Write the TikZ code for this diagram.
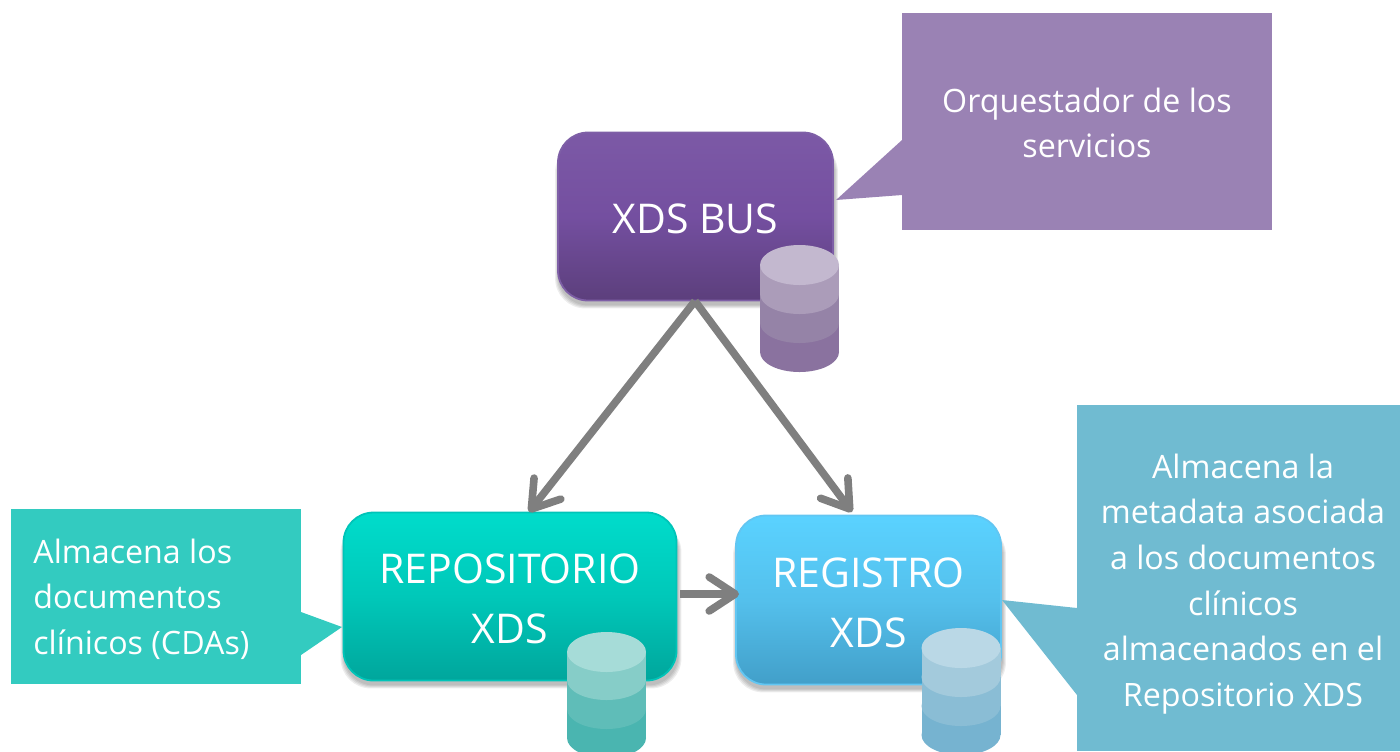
\documentclass[tikz,border=0pt]{standalone}
\usepackage{fontspec}
\setmainfont{Open Sans}
\usetikzlibrary{arrows.meta,calc}
\definecolor{arrowgray}{HTML}{7F7F7F}
\definecolor{busT}{HTML}{7C59A6}\definecolor{busM}{HTML}{744FA0}\definecolor{busB}{HTML}{5C3F7C}\definecolor{busE}{HTML}{7E5FA6}
\definecolor{repT}{HTML}{00DCCB}\definecolor{repM}{HTML}{00C8B9}\definecolor{repB}{HTML}{00A69C}\definecolor{repE}{HTML}{00C4B8}
\definecolor{regT}{HTML}{5AD2FF}\definecolor{regM}{HTML}{54C0EC}\definecolor{regB}{HTML}{429FC9}\definecolor{regE}{HTML}{62C6F2}
\definecolor{noteP}{HTML}{9A82B4}\definecolor{noteT}{HTML}{33CBC0}\definecolor{noteB}{HTML}{70BBD1}
\definecolor{pa}{HTML}{C3B8CF}\definecolor{pb}{HTML}{AB9CB9}\definecolor{pc}{HTML}{9583A7}\definecolor{pd}{HTML}{8A729F}
\definecolor{ta}{HTML}{A6DCD8}\definecolor{tb}{HTML}{86CDC8}\definecolor{tc}{HTML}{5FBDB8}\definecolor{td}{HTML}{4AB5B0}
\definecolor{ba}{HTML}{BAD8E6}\definecolor{bb}{HTML}{A3CADC}\definecolor{bc}{HTML}{8ABDD5}\definecolor{bd}{HTML}{76B3D0}
\newcommand{\softshadow}[1]{%
  \foreach \g in {7,5,3,1}{%
    \path[fill=black,fill opacity=0.07,rounded corners=15pt]
      ($(#1.south west)+(-\g*0.5+1,4+\g*0.5)$) rectangle ($(#1.north east)+(\g*0.5+1,10)$);
  }}
\newcommand{\dbband}[4]{%
  \fill[#4] (#1-39.5,#2) rectangle (#1+39.5,#3-20);
  \fill[#4] (#1,#3-20) ellipse [x radius=39.5,y radius=20];}
\newcommand{\dbstack}[6]{%
  \dbband{#1}{#2+20}{#5}{#6d}
  \dbband{#1}{#2+20}{#4}{#6c}
  \dbband{#1}{#2+20}{#3}{#6b}
  \fill[#6a] (#1,#2+20) ellipse [x radius=39.5,y radius=20];}
\tikzset{
  box/.style={draw=#1E,line width=0.9pt,rounded corners=15pt,inner sep=0pt,
    top color=#1T,bottom color=#1B,middle color=#1M},
  boxlabel/.style={inner sep=0pt,align=center,text=white,font=\fontsize{20.5}{30}\selectfont},
  note/.style={fill=#1,inner sep=0pt,align=center,text=white,font=\fontsize{16.1}{22.8}\selectfont},
  flow/.style={draw=arrowgray,line width=3.8pt,-{Straight Barb[round,length=13pt,width=17pt]}}
}
\begin{document}
\begin{tikzpicture}[x=0.5pt,y=-0.5pt]
\useasboundingbox (0,0) rectangle (1400,751);
\clip (0,0) rectangle (1400,751);
\path node[minimum width=137.5pt,minimum height=84pt,inner sep=0pt] (bus) at (695.5,216.5) {};
\path node[minimum width=166.5pt,minimum height=84pt,inner sep=0pt] (repo) at (510,596.5) {};
\path node[minimum width=132.5pt,minimum height=84.5pt,inner sep=0pt] (reg) at (868.5,600) {};
\softshadow{bus}\softshadow{repo}\softshadow{reg}
\node[box=bus,minimum width=137.5pt,minimum height=84pt] (busbox) at (695.5,216.5) {};
\node[box=rep,minimum width=166.5pt,minimum height=84pt] (repobox) at (510,596.5) {};
\node[box=reg,minimum width=132.5pt,minimum height=84.5pt] (regbox) at (868.5,600) {};
\node[boxlabel] (bustext) at (695.5,218.5) {XDS BUS};
\node[boxlabel] (repotext) at (510,598.5) {REPOSITORIO\\XDS};
\node[boxlabel] (regtext) at (868.5,602.5) {REGISTRO\\XDS};
\node[note=noteP,minimum width=185pt,minimum height=108.5pt] (n1) at (1087,121.5) {};
\node[note=noteP] (n1t) at (1087,123) {Orquestador de los\\servicios};
\fill[noteP] (902,140) -- (836,200) -- (902,195) -- cycle;
\node[note=noteT,minimum width=145pt,minimum height=87.5pt] (n2) at (156,596.5) {};
\node[note=noteT,align=left,anchor=west] (n2t) at (33,599) {Almacena los\\documentos\\clínicos (CDAs)};
\fill[noteT] (301,612) -- (342,627) -- (301,655) -- cycle;
\node[note=noteB,minimum width=161.5pt,minimum height=173pt] (n3) at (1238.5,578) {};
\node[note=noteB] (n3t) at (1243,584) {Almacena la\\metadata asociada\\a los documentos\\clínicos\\almacenados en el\\Repositorio XDS};
\fill[noteB] (1077,608) -- (1002,600) -- (1077,695) -- cycle;
\coordinate (busout) at (695,301);
\coordinate (repoin) at (529,512);
\coordinate (regin) at (852,512);
\coordinate (repoout) at (680,594);
\coordinate (regside) at (739,594);
\draw[flow] (busout) -- (repoin);
\draw[flow] (busout) -- (regin);
\draw[flow] (repoout) -- (regside);
\dbstack{799.5}{245}{314}{343}{372}{p}
\dbstack{606.5}{632}{700}{729}{758}{t}
\dbstack{961}{628}{697}{726}{755}{b}
\end{tikzpicture}
\end{document}
